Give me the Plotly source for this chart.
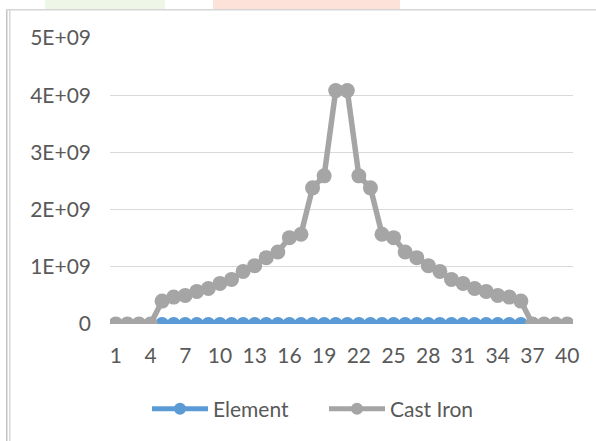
import plotly.graph_objects as go

points = list(range(1, 41))
cast_iron_half = [0, 0, 0, 0, 0.40, 0.47, 0.50, 0.57, 0.62, 0.71,
                  0.78, 0.92, 1.02, 1.16, 1.26, 1.51, 1.57, 2.38, 2.59, 4.08]
cast_iron = [v * 1e9 for v in cast_iron_half] + [v * 1e9 for v in cast_iron_half[::-1]]
element = [0.0] * 40

y_ticks = [0, 1e9, 2e9, 3e9, 4e9, 5e9]
y_ticktext = ["0", "1E+09", "2E+09", "3E+09", "4E+09", "5E+09"]
x_ticks = list(range(1, 41, 3))

BLUE = "#5B9BD5"
GREY = "#A5A5A5"
TXT = "#595959"

fig = go.Figure()
fig.add_trace(go.Scatter(x=points, y=element, name="Element", mode="lines+markers",
                         line=dict(color=BLUE, width=5.5),
                         marker=dict(color=BLUE, size=14)))
fig.add_trace(go.Scatter(x=points, y=cast_iron, name="Cast Iron", mode="lines+markers",
                         line=dict(color=GREY, width=5.5),
                         marker=dict(color=GREY, size=15)))

W, H = 463, 286
def px(x):
    return (x - 110) / W
def py(y):
    return (324 - y) / H

fig.update_layout(
    width=596, height=441,
    margin=dict(l=110, r=23, t=38, b=117),
    paper_bgcolor="white", plot_bgcolor="white",
    font=dict(family="Lato, Carlito, Calibri, sans-serif", size=21, color=TXT),
    showlegend=True,
    legend=dict(orientation="h", x=px(147), xanchor="left", y=py(409), yanchor="middle",
                font=dict(size=21, color=TXT), itemwidth=56, entrywidth=106,
                traceorder="normal", itemsizing="constant"),
    xaxis=dict(range=[0.5, 40.5], tickmode="array", tickvals=x_ticks,
               ticktext=[str(v) for v in x_ticks], showgrid=False, zeroline=False,
               showline=False, ticks="", ticklabelstandoff=17, fixedrange=True),
    yaxis=dict(range=[0, 5e9], tickmode="array", tickvals=y_ticks, ticktext=y_ticktext,
               showgrid=True, gridcolor="#D9D9D9", gridwidth=1.3, zeroline=False,
               showline=False, ticks="", ticklabelstandoff=18, fixedrange=True),
)
# chart-area frame lines (left double border and top edge)
fig.add_shape(type="rect", xref="paper", yref="paper", x0=px(6), x1=px(7.5),
              y0=py(441), y1=py(9.5), fillcolor="#C4C4C4", line=dict(width=0), layer="below")
fig.add_shape(type="rect", xref="paper", yref="paper", x0=px(9), x1=px(10.5),
              y0=py(441), y1=py(9.5), fillcolor="#D8D8D8", line=dict(width=0), layer="below")
fig.add_shape(type="rect", xref="paper", yref="paper", x0=px(6), x1=px(596),
              y0=py(10.5), y1=py(9), fillcolor="#D6D6D6", line=dict(width=0), layer="below")
# faint watermark strips at the very top
fig.add_shape(type="rect", xref="paper", yref="paper", x0=px(45), x1=px(165),
              y0=py(9), y1=py(0), fillcolor="#EEF6E8", line=dict(width=0), layer="below")
fig.add_shape(type="rect", xref="paper", yref="paper", x0=px(213), x1=px(400),
              y0=py(9), y1=py(0), fillcolor="#FDE2D9", line=dict(width=0), layer="below")
fig.write_html("out.html")
